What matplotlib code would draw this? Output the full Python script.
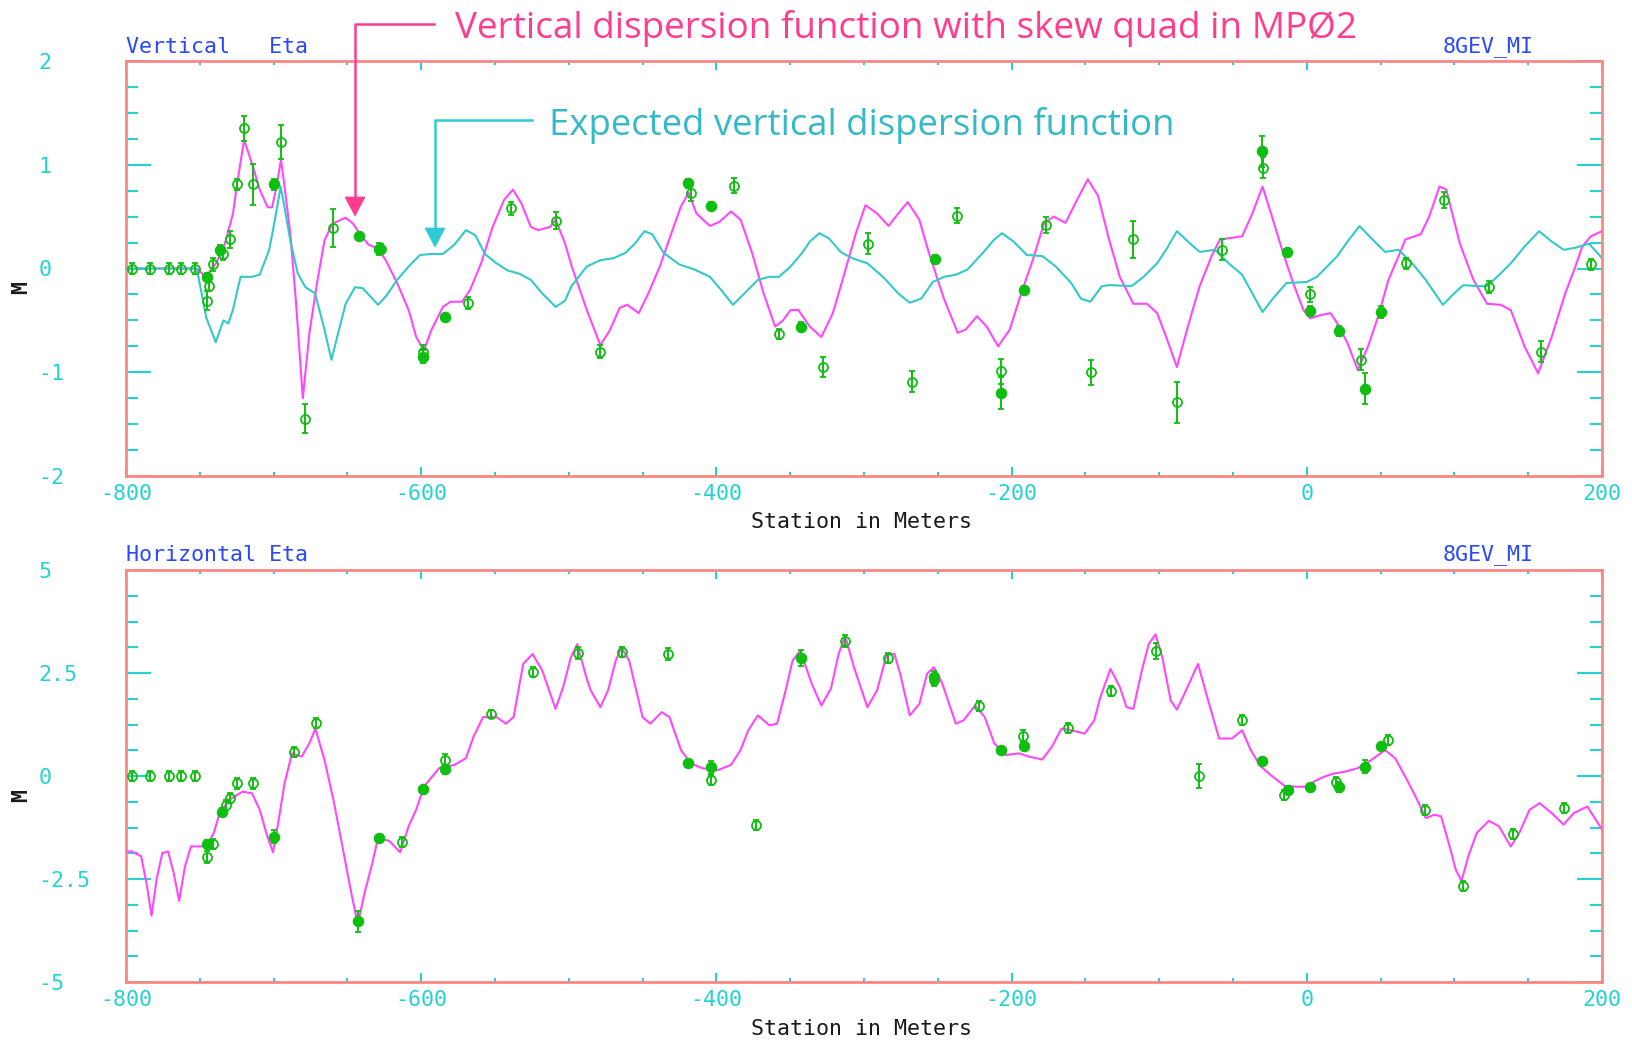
import matplotlib
matplotlib.use("Agg")
import matplotlib.pyplot as plt
from matplotlib.lines import Line2D
from matplotlib.patches import Polygon
from matplotlib.ticker import MultipleLocator, FixedLocator

plt.rcParams['axes.unicode_minus'] = False

# ---------------------------------------------------------------- data ----
# Vertical eta: lattice function with the skew quad in MP02 (station m, eta m)
vert_skew_s = [-800, -752, -746, -739, -733, -727.5, -725, -720, -714.6, -709.4, -704, -701, -698, -695,
               -692.6, -688.7, -684.9, -680.2, -675.8, -670.6, -665.5, -660.3, -651.2, -646, -641, -635.7,
               -629.2, -624, -616.3, -608.5, -603.4, -598.2, -593, -585.3, -580, -572.3, -567, -559.4,
               -551.6, -543.9, -537.9, -532.2, -525.7, -520.6, -512.8, -508.9, -502.5, -498, -487.8,
               -478.6, -472, -465.6, -460.4, -452.6, -446.1, -438.3, -430.5, -424, -418.8, -413.5, -404.4,
               -397.9, -390.1, -383.6, -375.8, -368, -360.2, -354.9, -349.7, -344.5, -336.7, -328.9,
               -321.1, -313.3, -305.5, -299, -291.1, -283.3, -276.8, -270.3, -262.5, -256, -245.6, -236.5,
               -231.2, -223.4, -216.9, -209.1, -201.3, -193.5, -185.7, -177.9, -171.4, -163.5, -155.7,
               -148.4, -141.4, -134, -126.7, -117.5, -108.3, -101.4, -94.5, -88, -80.6, -72.6, -64.5,
               -58.8, -43.8, -36.9, -30, -24.2, -16.1, -9.2, -2.3, 2.3, 9.2, 16.1, 20.7, 27.6, 34.6, 41.5,
               48.4, 55.3, 62.2, 66.8, 77.2, 82.9, 89.9, 94.5, 103.7, 112.9, 122.1, 131.3, 138.2, 147.5,
               156.7, 165.9, 175.1, 182, 186.6, 192.4, 200]
vert_skew_eta = [0, 0, -0.08, 0.05, 0.24, 0.53, 0.79, 1.24, 1.01, 0.76, 0.59, 0.59, 0.79, 1.05,
                 0.79, 0.34, -0.31, -1.25, -0.63, -0.14, 0.27, 0.43, 0.49, 0.43, 0.32, 0.23,
                 0.19, 0.08, -0.14, -0.40, -0.66, -0.79, -0.59, -0.37, -0.32, -0.32, -0.21, 0.05,
                 0.40, 0.66, 0.76, 0.63, 0.40, 0.37, 0.40, 0.47, 0.24, 0.02, -0.40,
                 -0.74, -0.59, -0.38, -0.35, -0.43, -0.24, 0.02, 0.34, 0.60, 0.73, 0.53, 0.41,
                 0.45, 0.55, 0.47, 0.15, -0.24, -0.56, -0.50, -0.40, -0.40, -0.56, -0.66,
                 -0.43, -0.05, 0.34, 0.61, 0.53, 0.41, 0.53, 0.64, 0.47, 0.15, -0.30, -0.62,
                 -0.59, -0.46, -0.56, -0.75, -0.59, -0.24, 0.08, 0.44, 0.50, 0.44, 0.66,
                 0.86, 0.70, 0.28, -0.08, -0.34, -0.34, -0.43, -0.69, -0.95, -0.56, -0.17, 0.12,
                 0.28, 0.31, 0.53, 0.79, 0.53, 0.15, -0.14, -0.40, -0.48, -0.45, -0.43, -0.53, -0.72, -0.98, -0.75,
                 -0.46, -0.11, 0.12, 0.28, 0.33, 0.50, 0.79, 0.76, 0.24, -0.11, -0.34, -0.35, -0.40, -0.75,
                 -1.01, -0.66, -0.24, 0.02, 0.21, 0.31, 0.36]

# Vertical eta: expected (design) function
vert_design_s = [-800, -752, -745.7, -739.2, -734, -730.7, -727.6, -722.4, -714.6, -709.4, -703, -699.1,
                 -695.2, -692.6, -688.7, -683.6, -678.4, -671.9, -665.5, -660.8, -656.4, -651.2, -644.8,
                 -639.6, -634.4, -629.2, -624, -616.3, -608.5, -600.8, -593, -585.3, -577.5, -569.7,
                 -563.3, -556.8, -549, -541.3, -533.5, -525.7, -518, -508.9, -502.5, -498.2, -487.8,
                 -478.6, -469.5, -461.7, -455.2, -448.7, -443.5, -435.7, -425.3, -414.8, -404.4, -396.6,
                 -388.8, -381, -371.9, -364.1, -357.6, -349.7, -341.9, -336.7, -330.2, -323.7, -315.9,
                 -308.1, -297.7, -287.2, -276.8, -269, -261.2, -253.4, -245.6, -237.8, -229.9, -219.5,
                 -211.7, -206.5, -198.7, -189.6, -179.2, -170.1, -159.6, -153.1, -146.6, -138.8, -133.6,
                 -118.7, -110.6, -101.4, -94.5, -88, -80.6, -72.6, -62.2, -53, -43.8, -36.9, -30, -23,
                 -13.8, 0, 6.9, 13.8, 20.7, 27.6, 35.7, 43.8, 53, 62.2, 71.4, 80.6, 92.2, 99.1, 106,
                 115.2, 122.1, 129, 138.2, 147.5, 157.4, 165.9, 174, 182, 191.2, 200]
vert_design_eta = [0, 0, -0.47, -0.71, -0.50, -0.53, -0.40, -0.08, -0.08, -0.06, 0.18, 0.47,
                   0.79, 0.59, 0.27, -0.05, -0.18, -0.24, -0.59, -0.88, -0.63, -0.34, -0.18,
                   -0.19, -0.27, -0.35, -0.27, -0.11, 0.02, 0.13, 0.14, 0.14, 0.23, 0.37,
                   0.32, 0.14, 0.05, -0.02, -0.05, -0.11, -0.24, -0.37, -0.31, -0.17, 0.02,
                   0.08, 0.10, 0.15, 0.24, 0.36, 0.33, 0.15, 0.04, -0.01, -0.08, -0.21,
                   -0.35, -0.24, -0.11, -0.08, -0.08, 0.02, 0.15, 0.26, 0.34, 0.29, 0.16,
                   0.10, 0.05, -0.08, -0.24, -0.33, -0.29, -0.13, -0.08, -0.06, -0.01, 0.15,
                   0.28, 0.34, 0.26, 0.13, 0.12, 0.02, -0.14, -0.29, -0.32, -0.17, -0.16,
                   -0.17, -0.08, 0.05, 0.20, 0.36, 0.26, 0.16, 0.18, 0.05, -0.06, -0.24, -0.42, -0.29,
                   -0.14, -0.13, -0.08, 0.02, 0.12, 0.26, 0.41, 0.29, 0.16, 0.18, 0.05, -0.11, -0.35, -0.25, -0.16,
                   -0.17, -0.17, -0.08, 0.05, 0.21, 0.36, 0.26, 0.18, 0.20, 0.24, 0.10]

# Vertical eta: BPM measurements (open = one plane reading, filled = other)
vert_open_s = [-796, -784, -771, -763, -753, -744, -745, -741, -734, -729.5, -725, -720, -714, -695,
               -679, -660, -627, -599, -568, -539, -508.5, -479, -417.5, -388, -357.5, -328, -297,
               -267.5, -237, -207, -176.5, -146, -117.5, -88, -57.5, -29.5, 2.5, 36.5, 67.5, 93,
               123.5, 158.5, 192.5]
vert_open_eta = [0, 0, 0, 0, 0, -0.17, -0.31, 0.04, 0.14, 0.28, 0.81, 1.35, 0.81, 1.22,
                 -1.45, 0.39, 0.19, -0.80, -0.33, 0.58, 0.46, -0.80, 0.73, 0.80, -0.63, -0.95, 0.24,
                 -1.09, 0.51, -0.99, 0.42, -1.00, 0.28, -1.29, 0.18, 0.97, -0.25, -0.88, 0.05, 0.66,
                 -0.18, -0.80, 0.04]
vert_open_err = [0.05, 0.05, 0.05, 0.05, 0.05, 0.05, 0.09, 0.06, 0.06, 0.08, 0.05, 0.12, 0.20, 0.16,
                 0.14, 0.18, 0.05, 0.06, 0.06, 0.06, 0.08, 0.06, 0.08, 0.07, 0.05, 0.10, 0.10,
                 0.10, 0.07, 0.12, 0.08, 0.12, 0.18, 0.20, 0.10, 0.10, 0.07, 0.10, 0.05, 0.08,
                 0.06, 0.10, 0.05]
vert_fill_s = [-745, -736.5, -699.5, -642, -628.5, -598.5, -584, -419, -403.5, -343, -252, -207,
               -191.5, -30.5, -13.5, 2.5, 21.5, 39.5, 50.5]
vert_fill_eta = [-0.08, 0.18, 0.81, 0.31, 0.19, -0.85, -0.47, 0.82, 0.60, -0.56, 0.09, -1.20,
                 -0.21, 1.13, 0.16, -0.41, -0.60, -1.16, -0.42]
vert_fill_err = [0.04, 0.05, 0.05, 0.03, 0.06, 0.06, 0.03, 0.04, 0.04, 0.04, 0.04, 0.15,
                 0.04, 0.15, 0.03, 0.05, 0.05, 0.15, 0.06]

# Horizontal eta: lattice function
horz_s = [-800, -796, -789.7, -785.8, -782.7, -779.3, -775.4, -771.5, -767.7, -764, -760, -756, -748.3,
          -744.4, -740.5, -736.6, -730.1, -721.1, -714.6, -709.4, -704.3, -700.4, -696.5, -692.6,
          -687.5, -681, -675.8, -671.7, -665.5, -659, -652.5, -647.4, -643, -638.3, -633.1, -629.2,
          -621.5, -614.2, -608.5, -603.4, -598.2, -587.8, -577.5, -569.7, -564.6, -558.1, -549,
          -542.6, -537.4, -530.9, -524.5, -518, -509, -503.8, -498.6, -494.2, -488.2, -485.2,
          -478.6, -473.4, -468.2, -464.3, -459.1, -450, -444.8, -437, -431.8, -424, -417.4, -409.6,
          -399.2, -390.1, -383.6, -378.4, -371.9, -364.1, -358.9, -353.6, -348.4, -343.2, -335.4,
          -328.9, -322.4, -317.2, -312.8, -306.8, -297.7, -291.1, -284.6, -279.4, -275.5, -269,
          -262.5, -257.3, -252.6, -246.9, -237.8, -232.6, -224.7, -218.2, -211.7, -203.9, -194.8,
          -188.3, -179.2, -172.7, -166.2, -159.6, -150.5, -144, -140, -133, -126.7, -122.1, -117.5,
          -111.8, -107.1, -102.5, -97.9, -92.2, -88, -81.8, -73.7, -66.8, -59.4, -50.7, -43.8, -38,
          -31.1, -23, -15, -6.9, 0, 4.6, 11.5, 18.4, 25.3, 34.6, 43.8, 53, 59.9, 66.8, 73.7, 80.6,
          86.4, 91, 96.8, 100.9, 104.8, 109.4, 115.2, 123.3, 130.2, 138.2, 144, 150.9, 157.8,
          165.9, 174, 180.9, 190.1, 200]
horz_eta = [-1.83, -1.83, -1.95, -2.67, -3.39, -2.51, -1.87, -1.83, -2.35, -3.03, -2.19, -1.71, -1.71,
            -1.63, -1.38, -0.90, -0.58, -0.38, -0.42, -0.82, -1.46, -1.85, -1.06, -0.18,
            0.55, 0.47, 0.79, 1.15, 0.39, -0.66, -1.87, -2.83, -3.60, -2.83, -2.11, -1.50,
            -1.58, -1.85, -1.22, -0.82, -0.26, 0.19, 0.27, 0.43, 0.95, 1.43, 1.43,
            1.27, 1.43, 2.72, 2.96, 2.56, 1.63, 2.16, 2.88, 3.20, 2.40, 2.08,
            1.67, 2.08, 2.80, 3.12, 2.80, 1.43, 1.27, 1.55, 1.43, 0.63, 0.31, 0.19,
            0.14, 0.27, 0.63, 1.11, 1.47, 1.23, 1.27, 2.00, 2.80, 3.04, 2.24,
            1.71, 2.12, 2.96, 3.40, 2.64, 1.67, 2.08, 2.96, 2.96, 2.48, 1.47,
            1.75, 2.48, 2.64, 2.24, 1.27, 1.35, 1.71, 1.43, 0.79, 0.51, 0.55,
            0.47, 0.40, 0.71, 1.15, 1.11, 1.03, 1.35, 1.90, 2.60, 2.16, 1.67, 1.63,
            2.56, 3.20, 3.44, 2.88, 1.83, 1.61, 2.08, 2.72, 1.83, 0.91, 0.91, 1.11, 0.63,
            0.23, -0.02, -0.24, -0.26, -0.26, -0.14, -0.02, 0.06, 0.10, 0.19, 0.39, 0.63, 0.43, -0.02, -0.50, -1.02,
            -0.94, -0.98, -1.71, -2.27, -2.55, -1.95, -1.38, -1.09, -1.22, -1.71, -1.38, -0.82, -0.66,
            -0.90, -1.18, -0.90, -0.74, -1.30]

horz_open_s = [-796, -784, -771, -763, -753, -741, -745, -732, -729.5, -725, -714, -686.5, -671.5,
               -613, -584, -553, -524, -493.5, -464, -433, -403.5, -373, -313, -283.5, -252.5, -222,
               -192, -161.5, -132.5, -102.5, -73, -44, -15.5, 20, 55, 80, 105.5, 140, 174.5]
horz_open_eta = [0, 0, 0, 0, 0, -1.65, -1.97, -0.70, -0.54, -0.18, -0.18, 0.59, 1.29,
                 -1.60, 0.39, 1.51, 2.52, 2.98, 3.00, 2.96, -0.10, -1.18, 3.28, 2.86, 2.32, 1.69,
                 0.97, 1.17, 2.06, 3.04, 0.00, 1.37, -0.46, -0.14, 0.87, -0.82, -2.67, -1.40, -0.78]
horz_open_err = [0.12, 0.12, 0.12, 0.12, 0.12, 0.12, 0.14, 0.12, 0.12, 0.14, 0.14, 0.12, 0.12,
                 0.12, 0.14, 0.10, 0.12, 0.14, 0.12, 0.14, 0.12, 0.12, 0.14, 0.12, 0.14, 0.12,
                 0.14, 0.12, 0.12, 0.20, 0.30, 0.12, 0.12, 0.12, 0.12, 0.12, 0.12, 0.12, 0.12]
horz_fill_s = [-745, -735, -699.5, -643, -628.5, -599, -584, -419, -403.5, -343, -252.5, -207,
               -191.5, -30.5, -12.5, 2.5, 22, 39.5, 50.5]
horz_fill_eta = [-1.65, -0.87, -1.47, -3.53, -1.50, -0.31, 0.16, 0.32, 0.21, 2.86, 2.40, 0.64,
                 0.72, 0.37, -0.34, -0.26, -0.26, 0.23, 0.72]
horz_fill_err = [0.10, 0.10, 0.15, 0.25, 0.05, 0.05, 0.10, 0.05, 0.15, 0.20, 0.15, 0.05,
                 0.10, 0.05, 0.10, 0.05, 0.12, 0.15, 0.08]

x_ticks = [-800, -600, -400, -200, 0, 200]
vert_ticks = [-2, -1, 0, 1, 2]
horz_ticks = [-5, -2.5, 0, 2.5, 5]

# --------------------------------------------------------------- style ----
W, H = 1633, 1040
MONO = "DejaVu Sans Mono"
MONO_SIZE = 15.6
FRAME = "#ff8585"
TICK = "#25d2d2"
TITLE_BLUE = "#2b48ff"
GREEN = "#0fbf0f"
MAGENTA = "#ff47ff"
CYAN_LINE = "#33c9c9"
PINK = "#ff3d8e"
TEAL = "#34b9c6"


def fx(px):
    return px / W


def fy(py):
    return 1 - py / H


fig = plt.figure(figsize=(W / 100, H / 100), dpi=100)
fig.patch.set_facecolor("white")


def make_axes(top, bottom, yticks, yminor):
    ax = fig.add_axes([fx(126), fy(bottom), fx(1602) - fx(126), fy(top) - fy(bottom)])
    ax.set_xlim(-800, 200)
    ax.set_ylim(yticks[0], yticks[-1])
    for sp in ax.spines.values():
        sp.set_color(FRAME)
        sp.set_linewidth(2.0)
    ax.xaxis.set_major_locator(FixedLocator(x_ticks))
    ax.xaxis.set_minor_locator(MultipleLocator(50))
    ax.yaxis.set_major_locator(FixedLocator(yticks))
    ax.yaxis.set_minor_locator(MultipleLocator(yminor))
    ax.tick_params(axis="x", which="major", direction="in", length=6.5, width=1.5,
                   color=TICK, top=True, bottom=True, labelcolor=TICK,
                   labelsize=MONO_SIZE, pad=6)
    ax.tick_params(axis="x", which="minor", direction="in", length=3.0, width=1.5,
                   color=TICK, top=True, bottom=True)
    ax.tick_params(axis="y", which="major", direction="in", length=18, width=1.5,
                   color=TICK, left=True, right=True, labelcolor=TICK,
                   labelsize=MONO_SIZE, pad=63)
    ax.tick_params(axis="y", which="minor", direction="in", length=8.6, width=1.5,
                   color=TICK, left=True, right=True)
    ax.set_xticklabels([f"{v:g}" for v in x_ticks], fontfamily=MONO)
    ax.set_yticklabels([f"{v:g}" for v in yticks], fontfamily=MONO, ha="left")
    return ax


def draw_points(ax, s, v, err, filled):
    ax.errorbar(s, v, yerr=err, fmt="o", color=GREEN, ecolor=GREEN,
                markersize=7 if filled else 6.5,
                markerfacecolor=GREEN if filled else "none",
                markeredgecolor=GREEN, markeredgewidth=1.3,
                elinewidth=1.4, capsize=2.5, capthick=1.3, zorder=5)


# -------------------------------------------------------- vertical eta ----
ax1 = make_axes(61, 476, vert_ticks, 0.25)
ax1.plot(vert_skew_s, vert_skew_eta, color=MAGENTA, lw=1.5, zorder=3)
ax1.plot(vert_design_s, vert_design_eta, color=CYAN_LINE, lw=1.5, zorder=3)
draw_points(ax1, vert_open_s, vert_open_eta, vert_open_err, False)
draw_points(ax1, vert_fill_s, vert_fill_eta, vert_fill_err, True)

# ------------------------------------------------------ horizontal eta ----
ax2 = make_axes(570, 982, horz_ticks, 0.625)
ax2.plot(horz_s, horz_eta, color=MAGENTA, lw=1.5, zorder=3)
draw_points(ax2, horz_open_s, horz_open_eta, horz_open_err, False)
draw_points(ax2, horz_fill_s, horz_fill_eta, horz_fill_err, True)

# ------------------------------------------------------------- labels ----
txt = dict(fontfamily=MONO, fontsize=MONO_SIZE)
fig.text(fx(126), fy(47), "Vertical   Eta", color=TITLE_BLUE, ha="left", va="center", **txt)
fig.text(fx(1443), fy(47), "8GEV_MI", color=TITLE_BLUE, ha="left", va="center", **txt)
fig.text(fx(126), fy(555), "Horizontal Eta", color=TITLE_BLUE, ha="left", va="center", **txt)
fig.text(fx(1443), fy(555), "8GEV_MI", color=TITLE_BLUE, ha="left", va="center", **txt)
for yc in (522, 1029):
    fig.text(fx(862), fy(yc), "Station in Meters", color="#1a1a1a", ha="center", va="center", **txt)
for yc in (288, 796):
    fig.text(fx(21), fy(yc), "M", color="#1a1a1a", ha="center", va="center",
             rotation=90, fontweight="bold", **txt)

# ------------------------------------------------------- annotations ----
fig.text(fx(455), fy(38), "Vertical dispersion function with skew quad in MP\u00d82",
         color=PINK, fontfamily="Open Sans", fontsize=26.6, ha="left", va="baseline")
fig.text(fx(549), fy(135), "Expected vertical dispersion function",
         color=TEAL, fontfamily="Open Sans", fontsize=26.3, ha="left", va="baseline")


def elbow_arrow(x_start, y_row, x_col, y_tip, color):
    fig.add_artist(Line2D([fx(x_start), fx(x_col), fx(x_col)],
                          [fy(y_row), fy(y_row), fy(y_tip - 17)],
                          transform=fig.transFigure, color=color, lw=1.8))
    fig.add_artist(Polygon([[fx(x_col - 10), fy(y_tip - 19)], [fx(x_col + 10), fy(y_tip - 19)],
                            [fx(x_col), fy(y_tip)]], closed=True, transform=fig.transFigure,
                           facecolor=color, edgecolor=color, lw=0.5))


elbow_arrow(434, 24, 355, 216, PINK)
elbow_arrow(532, 120, 435, 247, "#2fcbd3")

fig.savefig("out.png", dpi=100, facecolor="white")
